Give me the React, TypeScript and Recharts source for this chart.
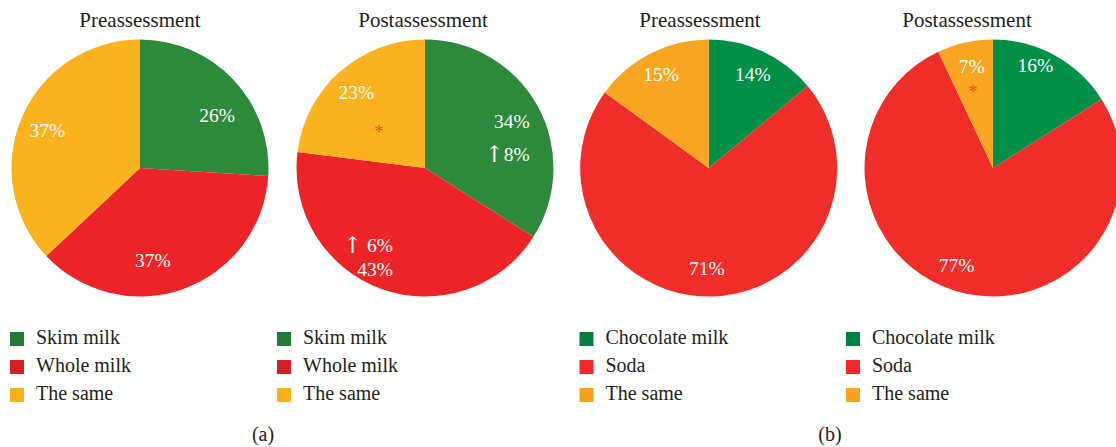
import React from 'react';
import { PieChart, Pie, Cell } from 'recharts';

// ---- data ----
const milkCategories = ['Skim milk', 'Whole milk', 'The same'];
const milkPre = [26, 37, 37];
const milkPost = [34, 43, 23];
const drinkCategories = ['Chocolate milk', 'Soda', 'The same'];
const drinkPre = [14, 71, 15];
const drinkPost = [16, 77, 7];
const milkPostChange = ['↑8%', '↑ 6%', ''];
const pieTitles = ['Preassessment', 'Postassessment', 'Preassessment', 'Postassessment'];
const panelLabels = ['(a)', '(b)'];

// ---- styles ----
const W = 1116;
const H = 447;
const FONT = '"Liberation Serif", "Times New Roman", serif';
const TEXT = '#231F20';
const milkColors = ['#2E8A3B', '#EC2427', '#FAB31F'];
const milkLegendColors = ['#247B37', '#D41F26', '#F9B01B'];
const drinkColors = ['#028F48', '#EF2E2A', '#F8A521'];
const drinkLegendColors = ['#00813F', '#EE2A2C', '#F7A11E'];
const STAR = '#F04E23';
const R = 128.5;
const CY = 168;
const RAD = Math.PI / 180;

type Place = { r: number; d: number; anchor?: string; lines?: string[]; gap?: number; star?: { r: number; d: number } };

const toData = (cats: string[], vals: number[]) => cats.map((name, i) => ({ name, value: vals[i] }));

const renderLine = (t: string) => {
  if (t.startsWith('↑')) {
    return [
      <tspan key="a" fontFamily='"DejaVu Serif", serif' fontSize={23} fontWeight={200}>
        ↑
      </tspan>,
      <tspan key="b">{t.slice(1)}</tspan>,
    ];
  }
  return t;
};

const makeLabel = (place: Place[]) => (p: any) => {
  const { cx, cy, midAngle, index, value } = p;
  const pl = place[index];
  const a = (midAngle - pl.d) * RAD;
  const x = cx + pl.r * Math.cos(a);
  const y = cy - pl.r * Math.sin(a);
  const lines = pl.lines ?? [`${value}%`];
  const gap = pl.gap ?? 0;
  const els: any[] = lines.map((t, i) => (
    <text
      key={i}
      x={x}
      y={y + (i - (lines.length - 1) / 2) * gap}
      textAnchor={pl.anchor ?? 'middle'}
      dominantBaseline="central"
      fill="#FFFFFF"
      fontFamily={FONT}
      fontSize={19.5}
    >
      {renderLine(t)}
    </text>
  ));
  if (pl.star) {
    const b = (midAngle - pl.star.d) * RAD;
    els.push(
      <text
        key="star"
        x={cx + pl.star.r * Math.cos(b)}
        y={cy - pl.star.r * Math.sin(b) + 4}
        textAnchor="middle"
        dominantBaseline="central"
        fill={STAR}
        fontFamily={FONT}
        fontSize={19}
      >
        *
      </text>
    );
  }
  return <g key={`lbl-${index}`}>{els}</g>;
};

const pies = [
  {
    cx: 140,
    data: toData(milkCategories, milkPre),
    colors: milkColors,
    place: [
      { r: 93.5, d: 8.7 },
      { r: 93, d: 11.9 },
      { r: 100, d: -1.1 },
    ] as Place[],
  },
  {
    cx: 425,
    data: toData(milkCategories, milkPost),
    colors: milkColors,
    place: [
      { r: 109, d: 12.8, anchor: 'end', lines: [`${milkPost[0]}%`, milkPostChange[0]], gap: 32 },
      { r: 94.6, d: 0, anchor: 'end', lines: [milkPostChange[1], `${milkPost[1]}%`], gap: 24 },
      { r: 101.6, d: -1, star: { r: 61.6, d: -6.9 } },
    ] as Place[],
  },
  {
    cx: 708.7,
    data: toData(drinkCategories, drinkPre),
    colors: drinkColors,
    place: [
      { r: 103, d: 0.2 },
      { r: 101, d: 2.8 },
      { r: 104.6, d: 0 },
    ] as Place[],
  },
  {
    cx: 993,
    data: toData(drinkCategories, drinkPost),
    colors: drinkColors,
    place: [
      { r: 110.5, d: -6.2 },
      { r: 103.6, d: 4.3 },
      { r: 104.2, d: 0.8, star: { r: 83.4, d: -1.3 } },
    ] as Place[],
  },
];

const titleX = [140, 423, 700, 967];
const legendX = [10, 277, 579.5, 846];
const legendRowsY = [339, 367, 395];
const legends = [
  { cats: milkCategories, colors: milkLegendColors },
  { cats: milkCategories, colors: milkLegendColors },
  { cats: drinkCategories, colors: drinkLegendColors },
  { cats: drinkCategories, colors: drinkLegendColors },
];
const panelX = [263, 830];

export default function App() {
  return (
    <div style={{ position: 'absolute', left: 0, top: 0, width: W, height: H, background: '#fff', overflow: 'hidden' }}>
      <PieChart width={W} height={H} margin={{ top: 0, right: 0, bottom: 0, left: 0 }}>
        {pies.map((p, k) => (
          <Pie
            key={k}
            data={p.data}
            dataKey="value"
            nameKey="name"
            cx={p.cx}
            cy={CY}
            outerRadius={R}
            startAngle={90}
            endAngle={-270}
            stroke="none"
            isAnimationActive={false}
            labelLine={false}
            label={makeLabel(p.place)}
          >
            {p.data.map((d, i) => (
              <Cell key={d.name} fill={p.colors[i]} />
            ))}
          </Pie>
        ))}
      </PieChart>
      <svg width={W} height={H} style={{ position: 'absolute', left: 0, top: 0, pointerEvents: 'none' }}>
        {pieTitles.map((t, i) => (
          <text key={i} x={titleX[i]} y={20} textAnchor="middle" dominantBaseline="central" fill={TEXT} fontFamily={FONT} fontSize={21}>
            {t}
          </text>
        ))}
        {legends.map((lg, k) => (
          <g key={k}>
            {lg.cats.map((c, i) => (
              <g key={c}>
                <rect x={legendX[k]} y={legendRowsY[i] - 7} width={14} height={14} fill={lg.colors[i]} />
                <text x={legendX[k] + 26} y={legendRowsY[i] - 2} dominantBaseline="central" fill={TEXT} fontFamily={FONT} fontSize={20}>
                  {c}
                </text>
              </g>
            ))}
          </g>
        ))}
        {panelLabels.map((t, i) => (
          <text key={t} x={panelX[i]} y={434} textAnchor="middle" dominantBaseline="central" fill={TEXT} fontFamily={FONT} fontSize={20}>
            {t}
          </text>
        ))}
      </svg>
    </div>
  );
}
